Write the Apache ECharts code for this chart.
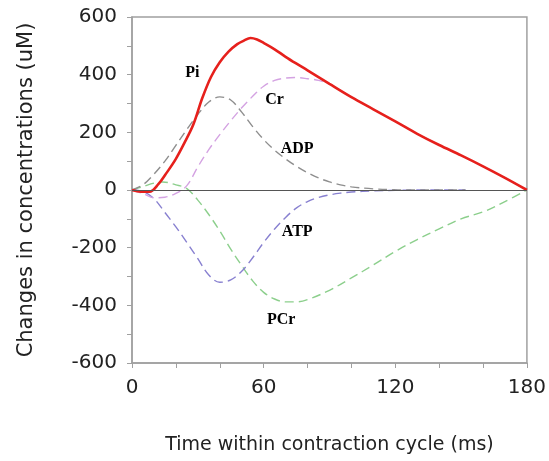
<!DOCTYPE html>
<html>
<head>
<meta charset="utf-8">
<script src="https://cdn.jsdelivr.net/npm/echarts@6/dist/echarts.min.js"></script>
<style>html,body{margin:0;padding:0;background:#fff}#c{width:549px;height:461px}</style>
</head>
<body>
<div id="c"></div>
<script>
// ---- data ----
const piT  = [0,4,8,12,16,20,24,28,32,36,40,44,48,51,54,57,60,65,70,75,80,90,100,110,120,130,140,150,160,170,180];
const piV  = [0,-6,-6,20,62,108,165,228,318,392,443,480,506,518,527,522,510,488,462,438,415,368,322,280,238,195,156,120,82,42,0];
const crT  = [0,5,10,15,20,25,30,35,40,45,50,55,60,65,70,75,80,85,90,100,110,120,130,140,150,160,170,180];
const crV  = [0,-12,-27,-25,-12,15,80,140,192,240,285,325,360,380,388,390,386,380,368,322,280,238,195,156,120,82,42,0];
const adpT = [0,5,10,15,20,25,30,35,40,45,50,55,60,65,70,75,80,85,90,95,100,110,120,130,140,152];
const adpV = [0,18,55,100,155,210,262,305,323,312,270,220,175,138,108,82,60,42,28,18,11,4,1,0,0,0];
const atpT = [0,5,10,15,20,25,30,35,40,45,50,55,60,65,70,75,80,85,90,95,100,110,120,130,140,152];
const atpV = [0,-5,-30,-78,-128,-182,-238,-295,-320,-312,-282,-235,-182,-135,-95,-62,-40,-26,-17,-11,-7,-3,-1,0,0,0];
const pcrT = [0,5,10,14,20,25,30,35,40,45,50,55,60,65,70,75,80,90,100,110,120,130,140,150,160,170,180];
const pcrV = [0,12,24,28,18,5,-35,-85,-142,-205,-262,-315,-355,-378,-388,-388,-380,-348,-305,-260,-213,-172,-135,-100,-76,-40,0];
const labelNames = ['Pi','Cr','ADP','ATP','PCr'];
const labelT = [27.5,65,75.3,75.3,68];
const labelV = [406,312,142,-146,-451];
const xMajor = 60, yMajor = 200;

const zip = (t, v) => t.map((x, i) => [x, v[i]]);
const chart = echarts.init(document.getElementById('c'), null, {renderer: 'canvas'});
const dashed = (name, t, v, color) => ({
  name, type: 'line', data: zip(t, v), smooth: 0.35, symbol: 'none',
  lineStyle: {color, width: 1.4, type: [9, 5]}, z: 2
});
chart.setOption({
  animation: false,
  backgroundColor: '#fff',
  grid: {left: 132, right: 18, top: 17, bottom: 98, show: true, borderColor: '#a0a0a0', borderWidth: 1.5},
  xAxis: {
    type: 'value', min: 0, max: 180, interval: 20,
    name: 'Time within contraction cycle (ms)', nameLocation: 'middle', nameGap: 73,
    nameTextStyle: {fontSize: 19, color: '#222', fontFamily: 'DejaVu Sans'},
    axisLine: {show: true, onZero: false, lineStyle: {color: '#a0a0a0', width: 1.5}},
    axisTick: {show: true, length: 5, lineStyle: {color: '#a0a0a0'}},
    axisLabel: {margin: 15, fontSize: 20, color: '#222', fontFamily: 'DejaVu Sans',
      formatter: v => (v % xMajor === 0 ? String(v) : '')},
    splitLine: {show: false}
  },
  yAxis: {
    type: 'value', min: -600, max: 600, interval: 100,
    name: 'Changes in concentrations (uM)', nameLocation: 'middle', nameGap: 95,
    nameTextStyle: {fontSize: 21, color: '#222', fontFamily: 'DejaVu Sans'},
    axisLine: {show: true, lineStyle: {color: '#a0a0a0', width: 1.5}},
    axisTick: {show: true, length: 5, lineStyle: {color: '#a0a0a0'}},
    axisLabel: {margin: 15, fontSize: 20, color: '#222', fontFamily: 'DejaVu Sans',
      formatter: v => (v % yMajor === 0 ? String(v) : '')},
    splitLine: {show: false}
  },
  series: [
    Object.assign(dashed('PCr', pcrT, pcrV, '#8ccf8c'), {
      markLine: {silent: true, symbol: 'none', label: {show: false},
        lineStyle: {color: '#555', width: 1, type: 'solid'}, data: [{yAxis: 0}]}
    }),
    dashed('ATP', atpT, atpV, '#8880d0'),
    dashed('ADP', adpT, adpV, '#8e8e8e'),
    dashed('Cr', crT, crV, '#d4a2e2'),
    {name: 'Pi', type: 'line', data: zip(piT, piV), smooth: 0.35, symbol: 'none',
      lineStyle: {color: '#e6201c', width: 2.6}, z: 3}
  ]
});
// curve name labels placed at data coordinates
chart.setOption({
  graphic: labelNames.map((n, i) => {
    const p = chart.convertToPixel({gridIndex: 0}, [labelT[i], labelV[i]]);
    return {type: 'text', x: p[0], y: p[1], z: 100,
      style: {text: n, fill: '#000', font: 'bold 16px "Liberation Serif"', align: 'center', verticalAlign: 'middle'}};
  })
});
</script>
</body>
</html>
